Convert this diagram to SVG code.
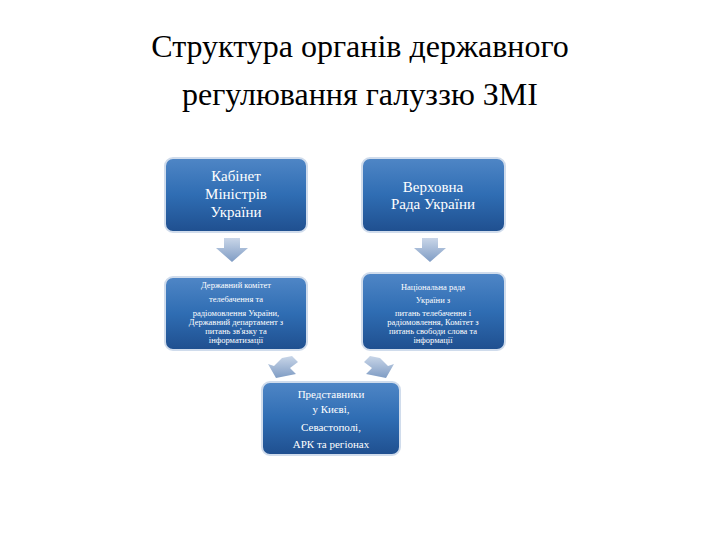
<svg xmlns="http://www.w3.org/2000/svg" width="720" height="540" viewBox="0 0 720 540">
<defs>
<linearGradient id="g" x1="0" y1="0" x2="0" y2="1"><stop offset="0" stop-color="#4f86c6"/><stop offset="0.5" stop-color="#2f6db3"/><stop offset="1" stop-color="#1f4f8f"/></linearGradient>
<linearGradient id="a" x1="0" y1="0" x2="0" y2="1"><stop offset="0" stop-color="#c9d6e8"/><stop offset="1" stop-color="#7f9cc4"/></linearGradient>
</defs>
<style>
.b{fill:url(#g);stroke:#d0dcec;stroke-width:2}
.t{font-family:"Liberation Serif",serif;fill:#fff;text-anchor:middle}
.h{font-family:"Liberation Serif",serif;fill:#000;text-anchor:middle;font-size:32px}
.ar{fill:url(#a)}
</style>
<rect width="720" height="540" fill="#fff"/>
<text class="h" x="360" y="57">Структура органів державного</text>
<text class="h" x="360" y="105">регулювання галуззю ЗМІ</text>
<g id="n1"><rect class="b" x="165" y="158" width="142" height="74" rx="8"/>
<text class="t" font-size="15"><tspan x="236" y="181">Кабінет</tspan><tspan x="236" y="199">Міністрів</tspan><tspan x="236" y="217">України</tspan></text></g>
<g id="n2"><rect class="b" x="362" y="158" width="143" height="74" rx="8"/>
<text class="t" font-size="15"><tspan x="433" y="192">Верховна</tspan><tspan x="433" y="209">Рада України</tspan></text></g>
<g id="n3"><rect class="b" x="165" y="277" width="142" height="73" rx="8"/>
<text class="t" font-size="8.5"><tspan x="236" y="288">Державний комітет</tspan><tspan x="236" y="302">телебачення та</tspan><tspan x="236" y="316">радіомовлення України,</tspan><tspan x="236" y="325">Державний департамент з</tspan><tspan x="236" y="334">питань зв'язку та</tspan><tspan x="236" y="343">інформатизації</tspan></text></g>
<g id="n4"><rect class="b" x="362" y="273" width="143" height="77" rx="8"/>
<text class="t" font-size="8.5"><tspan x="433" y="290">Національна рада</tspan><tspan x="433" y="303">України з</tspan><tspan x="433" y="316">питань телебачення і</tspan><tspan x="433" y="325">радіомовлення, Комітет з</tspan><tspan x="433" y="334">питань свободи слова та</tspan><tspan x="433" y="343">інформації</tspan></text></g>
<g id="n5"><rect class="b" x="262" y="382" width="138" height="73" rx="8"/>
<text class="t" font-size="11"><tspan x="331" y="398">Представники</tspan><tspan x="331" y="413">у Києві,</tspan><tspan x="331" y="431">Севастополі,</tspan><tspan x="331" y="448">АРК та регіонах</tspan></text></g>
<g id="connectors">
<path class="ar" d="M224 238h16v10h8l-16 14l-16-14h8z"/>
<path class="ar" d="M422 238h16v10h8l-16 14l-16-14h8z"/>
<path class="ar" d="M292 356l6 6l-8 6l6 6l-20 4l-8-14l6 2l8-8z" transform="rotate(0)"/>
<path class="ar" d="M370 356l-6 6l8 6l-6 6l20 4l8-14l-6 2l-8-8z"/>
</g>
</svg>
